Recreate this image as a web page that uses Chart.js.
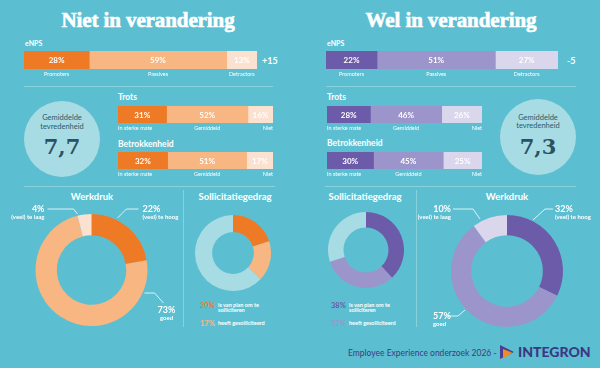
<!DOCTYPE html>
<html>
<head>
<meta charset="utf-8">
<script src="https://cdn.jsdelivr.net/npm/chart.js@4.4.1/dist/chart.umd.min.js"></script>
<style>
  body { margin: 0; width: 600px; height: 368px; background: #5cbfd1; position: relative; overflow: hidden; font-family: Lato, sans-serif; color: #fff; }
  .t { position: absolute; white-space: nowrap; line-height: 1; transform: translateY(-50%); }
  .c { transform: translate(-50%, -50%); text-align: center; }
  .title { font-family: "Liberation Serif", serif; font-weight: bold; font-size: 21px; -webkit-text-stroke: 0.6px #fff; letter-spacing: -0.1px; }
  .sub { font-size: 7px; font-weight: bold; }
  .lbl { font-size: 8.5px; font-weight: bold; }
  .h2 { font-size: 9.5px; font-weight: bold; }
  .score { font-size: 9px; font-weight: bold; }
  .box { position: absolute; }
  .line { position: absolute; background: #88d2de; }
  .circle { position: absolute; width: 76px; height: 76px; border-radius: 50%; background: #a8dce4; }
  .circ-t { color: #2c5a68; font-size: 7.5px; }
  .big { font-family: "DejaVu Serif", serif; font-weight: bold; font-size: 21px; color: #2a5262; }
  .leg-v { font-size: 7.5px; font-weight: bold; }
  .leg-t { font-size: 5.5px; font-weight: bold; white-space: pre-line; line-height: 1.05; }
  .foot { color: #3d3b80; font-size: 8.5px; }
  .logo { color: #3b3883; font-size: 14px; font-weight: 900; }
</style>
</head>
<body>
<div class="t c title" style="left:148px;top:20px">Niet in verandering</div>
<div class="t c title" style="left:451px;top:20px">Wel in verandering</div>

<div class="t sub" style="left:25px;top:43px">eNPS</div>
<div class="t sub" style="left:327px;top:43px">eNPS</div>
<div class="box" style="left:24px;top:51px;width:233px;height:28px"><canvas id="enpsNiet"></canvas></div>
<div class="box" style="left:326px;top:51px;width:232px;height:28px"><canvas id="enpsWel"></canvas></div>
<div class="t score" id="scoreNiet" style="left:262px;top:60px"></div>
<div class="t score" id="scoreWel" style="left:567px;top:60px"></div>
<div class="line" style="left:24px;top:86px;width:249px;height:1px"></div>
<div class="line" style="left:326px;top:86px;width:250px;height:1px"></div>

<div class="circle" style="left:24px;top:101px"></div>
<div class="t c circ-t" style="left:62px;top:118px">Gemiddelde</div>
<div class="t c circ-t" style="left:62px;top:127px">tevredenheid</div>
<div class="t c big" id="tevNiet" style="left:62px;top:146px"></div>

<div class="circle" style="left:500px;top:99px"></div>
<div class="t c circ-t" style="left:538px;top:118px">Gemiddelde</div>
<div class="t c circ-t" style="left:538px;top:126px">tevredenheid</div>
<div class="t c big" id="tevWel" style="left:538px;top:146px"></div>

<div class="t lbl" style="left:118px;top:97px">Trots</div>
<div class="t lbl" style="left:118px;top:144px">Betrokkenheid</div>
<div class="t lbl" style="left:327px;top:97px">Trots</div>
<div class="t lbl" style="left:327px;top:143px">Betrokkenheid</div>
<div class="box" style="left:118px;top:106px;width:155px;height:26px"><canvas id="trotsNiet"></canvas></div>
<div class="box" style="left:118px;top:152px;width:155px;height:26px"><canvas id="betrokNiet"></canvas></div>
<div class="box" style="left:327px;top:106px;width:155px;height:26px"><canvas id="trotsWel"></canvas></div>
<div class="box" style="left:327px;top:152px;width:155px;height:26px"><canvas id="betrokWel"></canvas></div>

<div class="line" style="left:24px;top:186px;width:251px;height:1px"></div>
<div class="line" style="left:325px;top:186px;width:251px;height:1px"></div>
<div class="line" style="left:183px;top:190px;width:1px;height:137px"></div>
<div class="line" style="left:416px;top:190px;width:1px;height:137px"></div>

<div class="t c h2" style="left:92px;top:197px">Werkdruk</div>
<div class="t c h2" style="left:235px;top:197px">Sollicitatiegedrag</div>
<div class="t c h2" style="left:365px;top:197px">Sollicitatiegedrag</div>
<div class="t c h2" style="left:507px;top:197px">Werkdruk</div>

<div class="box" style="left:0px;top:198px;width:183px;height:140px"><canvas id="werkNiet"></canvas></div>
<div class="box" style="left:417px;top:199px;width:180px;height:140px"><canvas id="werkWel"></canvas></div>
<div class="box" style="left:195px;top:215px;width:76px;height:76px"><canvas id="sollNiet"></canvas></div>
<div class="box" style="left:328px;top:212px;width:76px;height:76px"><canvas id="sollWel"></canvas></div>
<div id="legNiet"></div>
<div id="legWel"></div>

<div class="t foot" style="left:348px;top:353px">Employee Experience onderzoek 2026 -</div>
<svg class="box" style="left:499px;top:344px" width="16" height="16" viewBox="0 0 16 16">
  <polygon points="1,1 15,8 1,15" fill="#4b3f8f"/>
  <polygon points="4,5 13,8.5 4,15" fill="#f08a2c"/>
</svg>
<div class="t logo" style="left:518px;top:352px">INTEGRON</div>

<script>
// eNPS
const enpsLabels = ['Promoters', 'Passives', 'Detractors'];
const enpsNiet = [28, 59, 13];
const enpsWel = [22, 51, 27];
const enpsScores = ['+15', '-5'];

// trots / betrokkenheid
const scaleLabels = ['In sterke mate', 'Gemiddeld', 'Niet'];
const trotsNiet = [31, 52, 16];
const trotsWel = [28, 46, 26];
const betrokNiet = [32, 51, 17];
const betrokWel = [30, 45, 25];

// gemiddelde tevredenheid
const tevredenheid = ['7,7', '7,3'];

// werkdruk
const werkdrukLabels = ['(veel) te hoog', 'goed', '(veel) te laag'];
const werkdrukNiet = [22, 73, 4];
const werkdrukWel = [32, 57, 10];

// sollicitatiegedrag (laatste = rest van de ring)
const sollLabels = ['is van plan om te\nsolliciteren', 'heeft gesolliciteerd', 'overig'];
const sollNiet = [20, 17, 63];
const sollWel = [38, 32, 30];

const orange = ['#ef7a25', '#f8b682', '#fbe2d0'];
const purple = ['#6c5ba8', '#9c95cb', '#dad6ec'];
const ringRest = '#a8dce4';

document.getElementById('scoreNiet').textContent = enpsScores[0];
document.getElementById('scoreWel').textContent = enpsScores[1];
document.getElementById('tevNiet').textContent = tevredenheid[0];
document.getElementById('tevWel').textContent = tevredenheid[1];

// tekst in en onder de balken
const barText = {
  id: 'barText',
  afterDatasetsDraw(chart, args, opts) {
    const ctx = chart.ctx;
    const bottom = chart.chartArea.bottom;
    chart.data.datasets.forEach((ds, i) => {
      const bar = chart.getDatasetMeta(i).data[0];
      const mid = (bar.x + bar.base) / 2;
      ctx.save();
      ctx.fillStyle = '#fff';
      ctx.textBaseline = 'middle';
      ctx.textAlign = 'center';
      ctx.font = 'bold 8px Lato';
      ctx.fillText(ds.data[0] + '%', mid, bar.y + 0.5);
      const a = opts.align[i];
      ctx.textAlign = a;
      ctx.font = '5.5px Lato';
      const x = a === 'left' ? bar.base : a === 'right' ? bar.x : mid;
      ctx.fillText(ds.label, x, bottom + 5);
      ctx.restore();
    });
  }
};

function stackBar(id, values, labels, colors, align, padBottom) {
  new Chart(document.getElementById(id), {
    type: 'bar',
    data: {
      labels: [''],
      datasets: values.map((v, i) => ({ label: labels[i], data: [v], backgroundColor: colors[i] }))
    },
    options: {
      indexAxis: 'y',
      responsive: true,
      maintainAspectRatio: false,
      animation: false,
      layout: { padding: { bottom: padBottom } },
      datasets: { bar: { barPercentage: 1, categoryPercentage: 1, borderWidth: 0 } },
      scales: {
        x: { stacked: true, display: false, min: 0, max: values.reduce((a, b) => a + b, 0) },
        y: { stacked: true, display: false }
      },
      plugins: { legend: { display: false }, tooltip: { enabled: false }, barText: { align } }
    },
    plugins: [barText]
  });
}

stackBar('enpsNiet', enpsNiet, enpsLabels, orange, ['center', 'center', 'center'], 10);
stackBar('enpsWel', enpsWel, enpsLabels, purple, ['center', 'center', 'center'], 10);
stackBar('trotsNiet', trotsNiet, scaleLabels, orange, ['left', 'center', 'right'], 9);
stackBar('betrokNiet', betrokNiet, scaleLabels, orange, ['left', 'center', 'right'], 9);
stackBar('trotsWel', trotsWel, scaleLabels, purple, ['left', 'center', 'right'], 9);
stackBar('betrokWel', betrokWel, scaleLabels, purple, ['left', 'center', 'right'], 9);

// leader lines + labels rond de grote ring
function leaderPlugin(items) {
  return {
    id: 'leaders',
    afterDraw(chart) {
      const arc = chart.getDatasetMeta(0).data[0];
      const cx = arc.x, cy = arc.y;
      const ctx = chart.ctx;
      const ds = chart.data.datasets[0];
      items.forEach((it, i) => {
        ctx.save();
        ctx.strokeStyle = '#fff';
        ctx.lineWidth = 0.8;
        ctx.beginPath();
        it.line.forEach(([dx, dy], k) => k ? ctx.lineTo(cx + dx, cy + dy) : ctx.moveTo(cx + dx, cy + dy));
        ctx.stroke();
        ctx.fillStyle = '#fff';
        ctx.textAlign = it.align;
        ctx.textBaseline = 'middle';
        ctx.font = 'bold 9px Lato';
        ctx.fillText(ds.data[i] + '%', cx + it.at[0], cy + it.at[1]);
        ctx.font = 'bold 6px Lato';
        ctx.fillText(chart.data.labels[i], cx + it.at[0], cy + it.at[1] + 8.5);
        ctx.restore();
      });
    }
  };
}

function ring(id, values, labels, colors, cutout, padding, plugins) {
  new Chart(document.getElementById(id), {
    type: 'doughnut',
    data: { labels, datasets: [{ data: values, backgroundColor: colors, borderWidth: 0, hoverOffset: 0 }] },
    options: {
      responsive: true,
      maintainAspectRatio: false,
      animation: false,
      cutout,
      layout: { padding },
      plugins: { legend: { display: false }, tooltip: { enabled: false } }
    },
    plugins
  });
}

ring('werkNiet', werkdrukNiet, werkdrukLabels, orange, '62%', { top: 16, bottom: 12 }, [leaderPlugin([
  { line: [[26, -52], [35, -61], [47, -61]], at: [51, -61], align: 'left' },
  { line: [[53, 23], [63, 23], [72, 33]], at: [75, 40], align: 'center' },
  { line: [[-14, -56], [-18, -61], [-44, -61]], at: [-47, -61], align: 'right' }
])]);
ring('werkWel', werkdrukWel, werkdrukLabels, purple, '64%', { top: 16, bottom: 12 }, [leaderPlugin([
  { line: [[26, -51], [38, -62], [46, -62]], at: [48, -62], align: 'left' },
  { line: [[-42, 39], [-49, 45], [-59, 45]], at: [-74, 45], align: 'left' },
  { line: [[-27, -52], [-34, -62], [-54, -62]], at: [-56, -62], align: 'right' }
])]);
ring('sollNiet', sollNiet, sollLabels, [orange[0], orange[1], ringRest], '55%', 0, []);
ring('sollWel', sollWel, sollLabels, [purple[0], purple[1], ringRest], '59%', 0, []);

// legenda bij sollicitatiegedrag
function legend(id, values, colors, x, ys) {
  const el = document.getElementById(id);
  [0, 1].forEach(i => {
    el.innerHTML += `<div class="t leg-v" style="left:${x}px;top:${ys[i]}px;color:${colors[i]}">${values[i]}%</div>` +
      `<div class="leg-t box" style="left:${x + 18}px;top:${ys[i] - 3.5}px">${sollLabels[i]}</div>`;
  });
}
legend('legNiet', sollNiet, orange, 200, [306, 324]);
legend('legWel', sollWel, purple, 331, [306, 324]);
</script>
</body>
</html>
